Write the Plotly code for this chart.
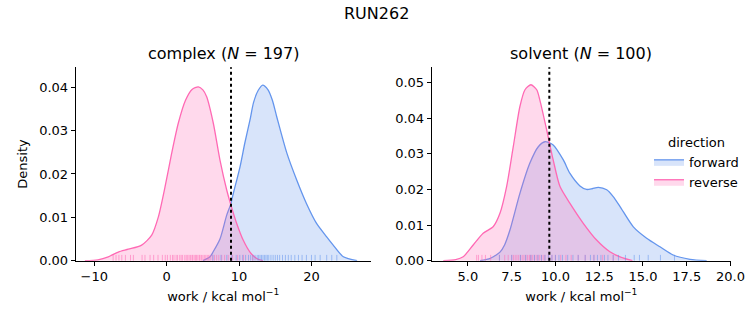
import plotly.graph_objects as go

# ---------------- data ----------------
# complex panel: KDE curves
cx_rev_x = [-11.3, -9.5, -8.07, -6.68, -5.3, -3.46, -2.07, -1.15, -0.23, 0.69, 1.6, 2.6, 3.5, 4.37, 5.0, 5.52, 6.44, 7.36, 8.29, 8.84, 9.67, 10.58, 11.5, 12.43, 13.3]
cx_rev_y = [0.0, 0.0002, 0.00088, 0.0020, 0.00265, 0.0036, 0.0059, 0.0101, 0.0170, 0.0248, 0.0317, 0.0370, 0.0395, 0.0401, 0.0394, 0.0378, 0.0317, 0.0232, 0.0163, 0.0130, 0.0086, 0.0047, 0.0020, 0.0005, 0.0]
cx_fwd_x = [5.0, 5.98, 6.4, 7.36, 8.29, 8.84, 9.2, 10.12, 10.8, 11.5, 12.0, 12.65, 13.26, 14.0, 14.6, 15.2, 16.6, 17.96, 19.3, 20.7, 22.1, 23.0, 24.4, 26.3]
cx_fwd_y = [0.0, 0.0009, 0.0020, 0.0050, 0.0105, 0.0130, 0.0155, 0.0216, 0.0272, 0.0324, 0.0365, 0.0393, 0.0405, 0.0394, 0.0370, 0.0332, 0.0248, 0.0186, 0.0132, 0.0086, 0.0055, 0.0036, 0.0009, 0.0]

# solvent panel: KDE curves
sv_rev_x = [3.59, 4.3, 4.73, 5.30, 5.87, 6.45, 6.83, 7.21, 7.59, 7.97, 8.26, 8.6, 8.93, 9.11, 9.5, 9.87, 10.26, 10.83, 11.59, 12.35, 13.11, 13.69, 14.4]
sv_rev_y = [0.0, 0.0003, 0.0011, 0.0044, 0.0077, 0.0096, 0.0133, 0.0208, 0.0320, 0.0433, 0.0480, 0.0494, 0.0480, 0.0451, 0.0367, 0.0283, 0.0208, 0.0161, 0.0105, 0.0058, 0.0025, 0.0011, 0.0]
sv_fwd_x = [5.69, 6.2, 6.45, 6.83, 7.1, 7.4, 7.97, 8.54, 9.02, 9.4, 9.87, 10.45, 10.83, 11.4, 11.78, 12.1, 12.45, 12.93, 13.3, 13.69, 14.45, 15.21, 15.97, 16.73, 17.69, 18.64]
sv_fwd_y = [0.0, 0.0005, 0.0011, 0.0024, 0.0045, 0.0086, 0.0189, 0.0274, 0.0320, 0.0334, 0.0325, 0.0283, 0.0245, 0.0210, 0.0200, 0.0202, 0.0206, 0.0199, 0.0180, 0.0152, 0.0095, 0.0063, 0.0039, 0.0016, 0.0004, 0.0]

# rug samples (approximate positions)
cx_rev_rug = [-7.4, -7.0, -6.6, -6.2, -5.7, -5.0, -4.6, -3.4, -3.0, -2.3, -1.8, -1.2, -0.6, -0.2, 0.1, 0.5, 0.8, 1.0,
              1.3, 1.5, 1.8, 2.0, 2.2, 2.5, 2.7, 2.9, 3.1, 3.3, 3.5, 3.6, 3.8, 4.0, 4.1, 4.3, 4.5, 4.6, 4.8, 5.0,
              5.2, 5.4, 5.6, 5.8, 6.0, 6.3, 6.6, 6.9, 7.2, 7.6, 8.0, 8.5, 9.1, 9.8, 10.6, 11.9]
cx_fwd_rug = [6.4, 7.5, 8.3, 9.0, 9.6, 10.1, 10.5, 10.9, 11.3, 11.6, 11.9, 12.2, 12.5, 12.7, 12.9, 13.1, 13.3, 13.5,
              13.7, 13.9, 14.1, 14.4, 14.7, 15.0, 15.3, 15.6, 16.0, 16.4, 16.8, 17.2, 17.7, 18.2, 18.7, 19.3, 20.0,
              20.5, 21.2, 22.1, 22.8, 23.5]
sv_rev_rug = [5.5, 5.6, 5.8, 6.0, 6.3, 6.8, 7.1, 7.3, 7.5, 7.6, 7.7, 7.8, 7.9, 8.0, 8.1, 8.2, 8.3, 8.4, 8.5, 8.55,
              8.6, 8.7, 8.8, 8.9, 9.0, 9.1, 9.2, 9.3, 9.4, 9.6, 9.8, 10.0, 10.3, 10.6, 10.9, 11.3, 11.7, 12.2, 12.7, 13.3]
sv_fwd_rug = [6.8, 7.5, 8.0, 8.3, 8.6, 8.8, 9.0, 9.2, 9.4, 9.6, 9.8, 10.0, 10.2, 10.4, 10.7, 11.0, 11.3, 11.7,
              12.0, 12.2, 12.4, 12.6, 12.8, 13.0, 13.3, 13.6, 14.0, 14.5, 14.8, 15.3, 16.0, 16.8]

# dotted reference lines
cx_vline = 8.88
sv_vline = 9.65

titles = ["complex (<i>N</i> = 197)", "solvent (<i>N</i> = 100)"]
suptitle = "RUN262"
xlabel = "work / kcal mol<sup>−1</sup>"
ylabel = "Density"
cx_xticks = [-10, 0, 10, 20]
sv_xticks = [5.0, 7.5, 10.0, 12.5, 15.0, 17.5, 20.0]
cx_yticks = [0.00, 0.01, 0.02, 0.03, 0.04]
sv_yticks = [0.00, 0.01, 0.02, 0.03, 0.04, 0.05]

# ---------------- styling ----------------
BLUE = "#6495ED"
PINK = "#FF69B4"
BLUE_FILL = "rgba(100,149,237,0.25)"
PINK_FILL = "rgba(255,105,180,0.25)"
BLUE_RUG = "rgba(100,149,237,0.55)"
PINK_RUG = "rgba(255,105,180,0.55)"
FONT = "DejaVu Sans"
W, H = 753, 325

fig = go.Figure()

def kde(x, y, color, fill, name, xa, ya, show):
    fig.add_trace(go.Scatter(x=x, y=y, mode="lines", line=dict(color=color, width=1.3, shape="spline", smoothing=0.7),
                             fill="tozeroy", fillcolor=fill, name=name, legendgroup=name, showlegend=show,
                             xaxis=xa, yaxis=ya, hoverinfo="skip"))

kde(cx_fwd_x, cx_fwd_y, BLUE, BLUE_FILL, "forward", "x", "y", True)
kde(cx_rev_x, cx_rev_y, PINK, PINK_FILL, "reverse", "x", "y", True)
kde(sv_fwd_x, sv_fwd_y, BLUE, BLUE_FILL, "forward", "x2", "y2", False)
kde(sv_rev_x, sv_rev_y, PINK, PINK_FILL, "reverse", "x2", "y2", False)

shapes = []
def rug(vals, color, xref, yref):
    for v in vals:
        shapes.append(dict(type="line", xref=xref, yref=yref + " domain", x0=v, x1=v, y0=0, y1=0.03,
                           line=dict(color=color, width=1)))

rug(cx_rev_rug, PINK_RUG, "x", "y")
rug(cx_fwd_rug, BLUE_RUG, "x", "y")
rug(sv_rev_rug, PINK_RUG, "x2", "y2")
rug(sv_fwd_rug, BLUE_RUG, "x2", "y2")

for xv, xr, yr in [(cx_vline, "x", "y"), (sv_vline, "x2", "y2")]:
    shapes.append(dict(type="line", xref=xr, yref=yr + " domain", x0=xv, x1=xv, y0=0, y1=1,
                       line=dict(color="black", width=2, dash="dot")))

dom_x1 = [75.7 / W, 370.7 / W]
dom_x2 = [431.7 / W, 731.0 / W]
dom_y = [(H - 260.7) / H, (H - 67.3) / H]

axis_common = dict(showline=True, linecolor="black", linewidth=1, ticks="outside", ticklen=4, tickwidth=1,
                   tickcolor="black", showgrid=False, zeroline=False, mirror=False, automargin=False,
                   tickfont=dict(family=FONT, size=13, color="black"))

fig.update_layout(
    width=W, height=H, margin=dict(l=0, r=0, t=0, b=0, pad=0, autoexpand=False),
    paper_bgcolor="white", plot_bgcolor="white",
    font=dict(family=FONT, size=13, color="black"),
    xaxis=dict(domain=dom_x1, range=[-12.57, 28.18], tickvals=cx_xticks, anchor="y",
               title=dict(text=xlabel, font=dict(size=13), standoff=8), **axis_common),
    yaxis=dict(domain=dom_y, range=[0, 0.0446], tickvals=cx_yticks, tickformat=".2f", anchor="x",
               title=dict(text=ylabel, font=dict(size=13), standoff=8), **axis_common),
    xaxis2=dict(domain=dom_x2, range=[2.93, 20.03], tickvals=sv_xticks, tickformat=".1f", anchor="y2",
                title=dict(text=xlabel, font=dict(size=13), standoff=8), **axis_common),
    yaxis2=dict(domain=dom_y, range=[0, 0.0543], tickvals=sv_yticks, tickformat=".2f", anchor="x2",
                **axis_common),
    shapes=shapes,
    showlegend=True,
    legend=dict(x=649 / W, y=1 - 130 / H, xanchor="left", yanchor="top", bgcolor="rgba(0,0,0,0)",
                font=dict(family=FONT, size=13), title=dict(text="direction", side="top center",
                                                         font=dict(family=FONT, size=13)),
                itemwidth=30, tracegroupgap=0),
    annotations=[
        dict(text=suptitle, x=0.5, y=1 - 13 / H, xref="paper", yref="paper", showarrow=False,
             font=dict(family=FONT, size=16), xanchor="center", yanchor="middle"),
        dict(text=titles[0], x=sum(dom_x1) / 2, y=1 - 54 / H, xref="paper", yref="paper", showarrow=False,
             font=dict(family=FONT, size=16), xanchor="center", yanchor="middle"),
        dict(text=titles[1], x=sum(dom_x2) / 2, y=1 - 54 / H, xref="paper", yref="paper", showarrow=False,
             font=dict(family=FONT, size=16), xanchor="center", yanchor="middle"),
    ],
)

fig.write_html("out.html")
